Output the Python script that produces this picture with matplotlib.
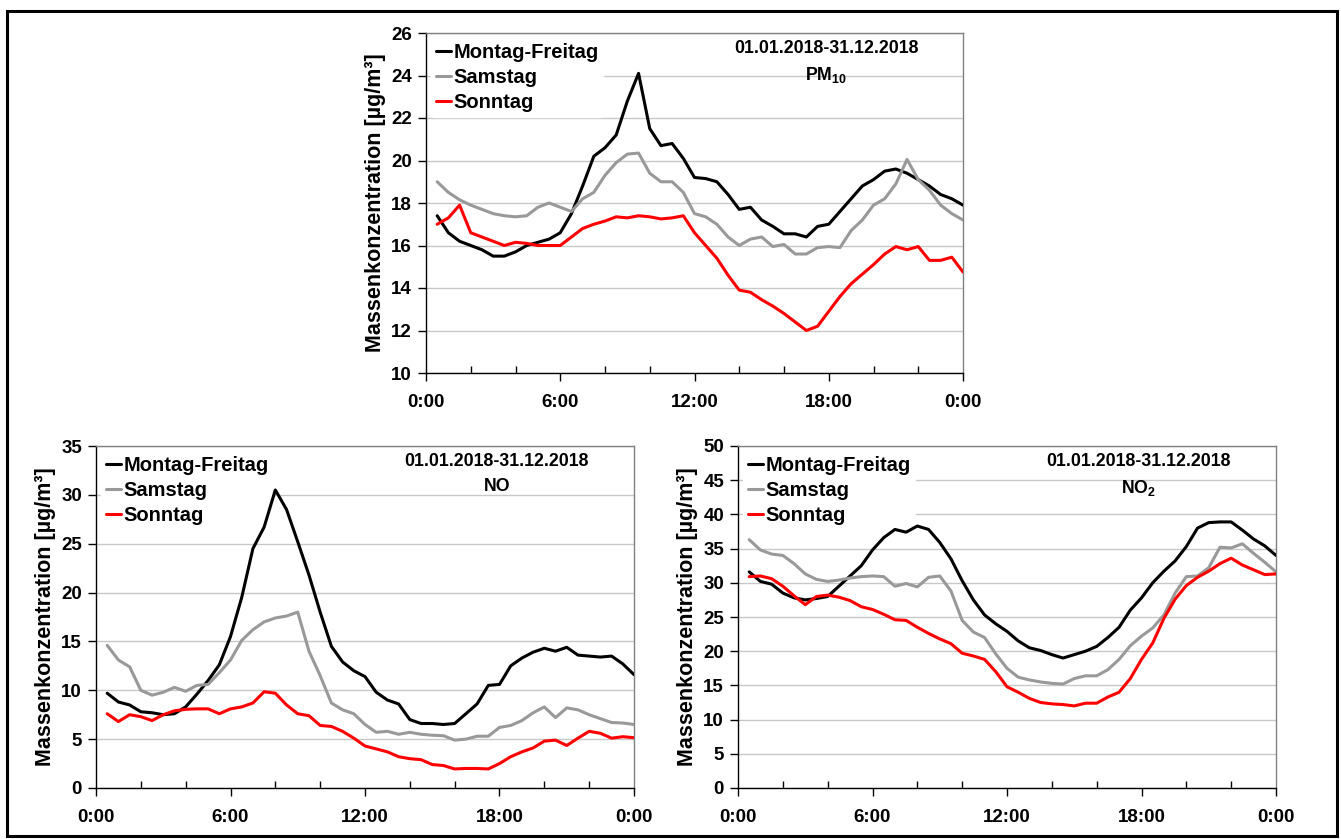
import numpy as np
import matplotlib
matplotlib.use("Agg")
import matplotlib.pyplot as plt
from matplotlib.ticker import MultipleLocator, FuncFormatter
from matplotlib.patches import Rectangle

plt.rcParams['font.family'] = ['Liberation Sans', 'DejaVu Sans']
plt.rcParams['font.weight'] = 'bold'
plt.rcParams['mathtext.fontset'] = 'custom'
plt.rcParams['mathtext.rm'] = 'Liberation Sans:bold'
plt.rcParams['mathtext.bf'] = 'Liberation Sans:bold'

# half-hourly values, 0:30 ... 24:00
hours = np.arange(1, 49) * 0.5

series_names = ["Montag-Freitag", "Samstag", "Sonntag"]
series_colors = ["black", "#999999", "red"]
period = "01.01.2018-31.12.2018"

pm10_wd = [17.4, 16.6, 16.2, 16.0, 15.8, 15.5, 15.5, 15.7, 16.0, 16.15, 16.3, 16.6,
           17.5, 18.8, 20.2, 20.6, 21.2, 22.8, 24.1, 21.5, 20.7, 20.8, 20.1, 19.2,
           19.15, 19.0, 18.4, 17.7, 17.8, 17.2, 16.9, 16.55, 16.55, 16.4, 16.9, 17.0,
           17.6, 18.2, 18.8, 19.1, 19.5, 19.6, 19.4, 19.1, 18.8, 18.4, 18.2, 17.9]
pm10_sa = [19.0, 18.5, 18.15, 17.9, 17.7, 17.5, 17.4, 17.35, 17.4, 17.8, 18.0, 17.8,
           17.6, 18.2, 18.5, 19.3, 19.9, 20.3, 20.35, 19.4, 19.0, 19.0, 18.5, 17.5,
           17.35, 17.0, 16.4, 16.0, 16.3, 16.4, 15.95, 16.05, 15.6, 15.6, 15.9, 15.95,
           15.9, 16.7, 17.2, 17.9, 18.2, 18.9, 20.05, 19.1, 18.6, 17.9, 17.5, 17.2]
pm10_so = [17.0, 17.3, 17.9, 16.6, 16.4, 16.2, 16.0, 16.15, 16.1, 16.0, 16.0, 16.0,
           16.4, 16.8, 17.0, 17.15, 17.35, 17.3, 17.4, 17.35, 17.25, 17.3, 17.4, 16.6,
           16.0, 15.4, 14.6, 13.9, 13.8, 13.45, 13.15, 12.8, 12.4, 12.0, 12.2, 12.9,
           13.6, 14.2, 14.65, 15.1, 15.6, 15.95, 15.8, 15.95, 15.3, 15.3, 15.45, 14.75]

no_wd = [9.7, 8.8, 8.5, 7.8, 7.7, 7.5, 7.6, 8.3, 9.6, 11.0, 12.6, 15.5,
         19.5, 24.5, 26.7, 30.5, 28.5, 25.2, 21.8, 18.0, 14.5, 12.9, 12.0, 11.4,
         9.8, 9.0, 8.6, 7.0, 6.6, 6.6, 6.5, 6.6, 7.6, 8.6, 10.5, 10.6,
         12.5, 13.3, 13.9, 14.3, 14.0, 14.4, 13.6, 13.5, 13.4, 13.5, 12.7, 11.6]
no_sa = [14.6, 13.1, 12.4, 10.0, 9.5, 9.8, 10.3, 9.9, 10.5, 10.6, 11.8, 13.1,
         15.1, 16.2, 17.0, 17.4, 17.6, 18.0, 14.0, 11.5, 8.7, 8.0, 7.6, 6.5,
         5.7, 5.8, 5.5, 5.7, 5.5, 5.4, 5.35, 4.9, 5.0, 5.3, 5.3, 6.2,
         6.4, 6.9, 7.7, 8.3, 7.2, 8.2, 8.0, 7.5, 7.1, 6.7, 6.65, 6.5]
no_so = [7.6, 6.8, 7.5, 7.3, 6.9, 7.5, 7.9, 8.05, 8.1, 8.1, 7.6, 8.1,
         8.3, 8.7, 9.85, 9.7, 8.5, 7.6, 7.4, 6.4, 6.3, 5.8, 5.1, 4.3,
         4.0, 3.7, 3.2, 3.0, 2.9, 2.4, 2.3, 1.95, 2.0, 2.0, 1.95, 2.5,
         3.2, 3.7, 4.1, 4.8, 4.9, 4.35, 5.1, 5.8, 5.6, 5.1, 5.25, 5.15]

no2_wd = [31.6, 30.2, 29.8, 28.5, 27.8, 27.5, 27.7, 28.0, 29.5, 31.0, 32.5, 34.8,
          36.6, 37.8, 37.4, 38.3, 37.8, 35.9, 33.5, 30.3, 27.5, 25.3, 24.0, 22.9,
          21.5, 20.5, 20.1, 19.5, 19.0, 19.5, 20.0, 20.7, 22.0, 23.5, 26.0, 27.8,
          30.0, 31.7, 33.2, 35.3, 38.0, 38.8, 38.9, 38.9, 37.7, 36.4, 35.4, 34.0]
no2_sa = [36.3, 34.8, 34.2, 34.0, 32.8, 31.3, 30.5, 30.2, 30.4, 30.7, 30.9, 31.0,
          30.9, 29.5, 29.9, 29.4, 30.8, 31.0, 28.8, 24.5, 22.8, 22.0, 19.6, 17.5,
          16.2, 15.8, 15.5, 15.3, 15.2, 16.0, 16.4, 16.4, 17.3, 18.8, 20.8, 22.2,
          23.4, 25.3, 28.5, 30.9, 31.0, 32.2, 35.2, 35.1, 35.7, 34.3, 33.0, 31.6]
no2_so = [30.9, 31.0, 30.6, 29.5, 28.1, 26.8, 28.0, 28.2, 27.9, 27.4, 26.5, 26.1,
          25.4, 24.6, 24.5, 23.5, 22.6, 21.8, 21.1, 19.7, 19.3, 18.8, 17.0, 14.8,
          14.0, 13.1, 12.5, 12.3, 12.2, 12.0, 12.4, 12.4, 13.3, 14.0, 16.0, 18.8,
          21.2, 24.8, 27.6, 29.6, 30.8, 31.7, 32.8, 33.6, 32.6, 31.9, 31.2, 31.3]


fig = plt.figure(figsize=(13.41, 8.39), dpi=100)
fig.patches.append(Rectangle((7 / 1341, 3 / 839), 1330 / 1341, 825 / 839,
                             transform=fig.transFigure, fill=False,
                             edgecolor="black", linewidth=2.2, zorder=0))

W, H = 1341, 839


def make_axes(left, top, right, bottom):
    return fig.add_axes([left / W, 1 - bottom / H, (right - left) / W, (bottom - top) / H])


def hour_label(v, pos):
    return "%d:00" % (int(round(v)) % 24)


def draw_panel(ax, data, ylim, ystep, species):
    for vals, name, col in zip(data, series_names, series_colors):
        ax.plot(hours, vals, color=col, lw=2.2, label=name,
                solid_joinstyle="round", solid_capstyle="round", zorder=3)
    ax.set_xlim(0, 24)
    ax.set_ylim(*ylim)
    ax.xaxis.set_major_locator(MultipleLocator(6))
    ax.xaxis.set_minor_locator(MultipleLocator(2))
    ax.xaxis.set_major_formatter(FuncFormatter(hour_label))
    ax.yaxis.set_major_locator(MultipleLocator(ystep))
    ax.grid(axis="y", color="#c8c8c8", lw=1.0, zorder=0)
    ax.set_axisbelow(True)
    ax.tick_params(axis="both", which="major", direction="out", length=6,
                   width=1, labelsize=13.5, pad=4)
    ax.tick_params(axis="x", which="minor", direction="in", length=5, width=1)
    ax.tick_params(axis="x", which="major", pad=9)
    for lab in ax.get_xticklabels() + ax.get_yticklabels():
        lab.set_fontweight("bold")
    for sp in ax.spines.values():
        sp.set_linewidth(1.0)
    ax.spines["top"].set_color("#808080")
    ax.spines["right"].set_color("#808080")
    ax.set_ylabel("Massenkonzentration [µg/m³]", fontsize=15.5,
                  fontweight="bold", labelpad=4)
    leg = ax.legend(loc="upper left", frameon=True, fontsize=14.5,
                    handlelength=0.75, handletextpad=0.1, labelspacing=0.3,
                    borderaxespad=0.25, borderpad=0.25)
    leg.get_frame().set_edgecolor("white")
    leg.get_frame().set_facecolor("white")
    leg.get_frame().set_alpha(1.0)
    leg.set_zorder(2)
    for t in leg.get_texts():
        t.set_fontweight("bold")
    ax.text(0.745, 0.98, period, transform=ax.transAxes, ha="center",
            va="top", fontsize=12.8, fontweight="bold", zorder=4)
    ax.text(0.745, 0.905, species, transform=ax.transAxes, ha="center",
            va="top", fontsize=12.8, fontweight="bold", zorder=4)


ax_pm = make_axes(426, 33, 963, 373)
draw_panel(ax_pm, [pm10_wd, pm10_sa, pm10_so], (10, 26), 2, r"PM$_{\mathrm{10}}$")

ax_no = make_axes(96, 446, 634, 788)
draw_panel(ax_no, [no_wd, no_sa, no_so], (0, 35), 5, "NO")

ax_no2 = make_axes(738, 446, 1276, 788)
draw_panel(ax_no2, [no2_wd, no2_sa, no2_so], (0, 50), 5, r"NO$_{\mathrm{2}}$")

fig.savefig("out.png", dpi=100)
